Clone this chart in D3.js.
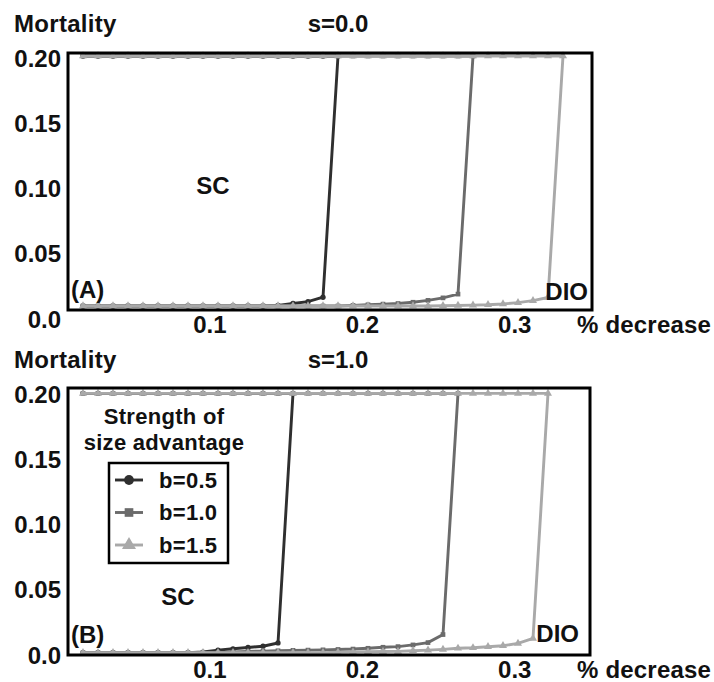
<!DOCTYPE html>
<html>
<head>
<meta charset="utf-8">
<script src="https://cdn.jsdelivr.net/npm/d3@7.9.0/dist/d3.min.js"></script>
<style>
    body { margin: 0; background: #fff; }
    svg text { font-family: "Liberation Sans", Arial, sans-serif; font-weight: bold; fill: #111; }
</style>
</head>
<body>
<svg id="chart" width="714" height="682"></svg>
<script>
// x positions shared by every series (% decrease)
const xGrid = [0.01, 0.02, 0.03, 0.04, 0.05, 0.06, 0.07, 0.08, 0.09, 0.10,
               0.11, 0.12, 0.13, 0.14, 0.15, 0.16, 0.17, 0.18, 0.19, 0.20,
               0.21, 0.22, 0.23, 0.24, 0.25, 0.26, 0.27, 0.28, 0.29, 0.30,
               0.31, 0.32, 0.33];

const seriesLabels = ['b=0.5', 'b=1.0', 'b=1.5'];
const xTicks = [0.1, 0.2, 0.3];
const yTicks = [0, 0.05, 0.10, 0.15, 0.20];
const yTickLabels = ['0.0', '0.05', '0.10', '0.15', '0.20'];

// panel (A), s=0.0 : upper branch (clipped at 0.2) and lower branch
const upperA05 = [0.2, 0.2, 0.2, 0.2, 0.2, 0.2, 0.2, 0.2, 0.2, 0.2, 0.2, 0.2, 0.2, 0.2, 0.2, 0.2, 0.2, 0.2];
const lowerA05 = [0, 0, 0, 0, 0, 0, 0, 0, 0, 0, 0, 0, 0, 0.0005, 0.002, 0.0035, 0.007];
const upperA10 = [0.2, 0.2, 0.2, 0.2, 0.2, 0.2, 0.2, 0.2, 0.2, 0.2, 0.2, 0.2, 0.2, 0.2, 0.2, 0.2, 0.2, 0.2,
                  0.2, 0.2, 0.2, 0.2, 0.2, 0.2, 0.2, 0.2, 0.2];
const lowerA10 = [0, 0, 0, 0, 0, 0, 0, 0, 0, 0, 0, 0, 0, 0, 0, 0, 0, 0,
                  0.0005, 0.001, 0.0015, 0.002, 0.003, 0.0045, 0.0065, 0.0095];
const upperA15 = [0.2, 0.2, 0.2, 0.2, 0.2, 0.2, 0.2, 0.2, 0.2, 0.2, 0.2, 0.2, 0.2, 0.2, 0.2, 0.2, 0.2, 0.2,
                  0.2, 0.2, 0.2, 0.2, 0.2, 0.2, 0.2, 0.2, 0.2, 0.2, 0.2, 0.2, 0.2, 0.2, 0.2];
const lowerA15 = [0, 0, 0, 0, 0, 0, 0, 0, 0, 0, 0, 0, 0, 0, 0, 0, 0, 0, 0, 0, 0, 0, 0, 0,
                  0.0002, 0.0004, 0.0007, 0.001, 0.0016, 0.0027, 0.0043, 0.0068];

// panel (B), s=1.0
const upperB05 = [0.2, 0.2, 0.2, 0.2, 0.2, 0.2, 0.2, 0.2, 0.2, 0.2, 0.2, 0.2, 0.2, 0.2, 0.2];
const lowerB05 = [0, 0, 0, 0, 0, 0, 0, 0, 0.0005, 0.002, 0.003, 0.004, 0.005, 0.0075];
const upperB10 = [0.2, 0.2, 0.2, 0.2, 0.2, 0.2, 0.2, 0.2, 0.2, 0.2, 0.2, 0.2, 0.2, 0.2, 0.2, 0.2, 0.2, 0.2,
                  0.2, 0.2, 0.2, 0.2, 0.2, 0.2, 0.2, 0.2];
const lowerB10 = [0, 0, 0, 0, 0, 0, 0, 0, 0, 0,
                  0.0005, 0.001, 0.0012, 0.0015, 0.0018, 0.002, 0.0022, 0.0025, 0.0028, 0.0034,
                  0.0042, 0.0047, 0.006, 0.0078, 0.014];
const upperB15 = [0.2, 0.2, 0.2, 0.2, 0.2, 0.2, 0.2, 0.2, 0.2, 0.2, 0.2, 0.2, 0.2, 0.2, 0.2, 0.2, 0.2, 0.2,
                  0.2, 0.2, 0.2, 0.2, 0.2, 0.2, 0.2, 0.2, 0.2, 0.2, 0.2, 0.2, 0.2, 0.2];
const lowerB15 = [0, 0, 0, 0, 0, 0, 0, 0, 0, 0, 0, 0, 0, 0, 0, 0, 0,
                  0.0003, 0.0005, 0.0007, 0.0009, 0.001, 0.0015, 0.002, 0.0026, 0.0034, 0.0038,
                  0.0046, 0.0054, 0.0072, 0.011];

const colors = ['#2f2f2f', '#6b6b6b', '#a9a9a9'];
const symbols = [d3.symbolCircle, d3.symbolSquare, d3.symbolTriangle];

const svg = d3.select('#chart');

function drawPanel(p) {
    let x = d3.scaleLinear().domain([0, 0.35]).range([p.left, p.left + 525]);
    let y = d3.scaleLinear().domain([0, 0.2]).range([p.y0, p.y0 - 260 + p.ySqueeze]);
    // labels sit on a slightly different spacing than the data in the original
    let xLab = d3.scaleLinear().domain([0, 0.35]).range([57.5, 591]);
    let yLab = d3.scaleLinear().domain([0, 0.2]).range([p.labY0, p.labY0 - 261]);

    let g = svg.append('g');

    let line = d3.line().x(d => x(d[0])).y(d => y(d[1]));

    p.series.forEach((s, i) => {
        let pts = s.upper.map((v, k) => [xGrid[k], v])
            .concat(s.lower.map((v, k) => [xGrid[k], v]).reverse());
        g.append('path')
            .attr('d', line(pts))
            .attr('fill', 'none')
            .attr('stroke', colors[i])
            .attr('stroke-width', 2.9);
        g.selectAll(null)
            .data(pts)
            .join('path')
            .attr('transform', d => `translate(${x(d[0])},${y(d[1])})`)
            .attr('d', d3.symbol().type(symbols[i]).size(i === 2 ? 28 : 22))
            .attr('fill', colors[i]);
    });

    // frame
    g.append('rect')
        .attr('x', p.left).attr('y', p.frameTop)
        .attr('width', p.frameRight - p.left).attr('height', p.frameBottom - p.frameTop)
        .attr('fill', 'none').attr('stroke', '#000').attr('stroke-width', 3);

    // y tick labels
    g.selectAll(null)
        .data(yTicks)
        .join('text')
        .attr('x', 61)
        .attr('y', d => yLab(d))
        .attr('dy', '0.36em')
        .attr('text-anchor', 'end')
        .style('font-size', '24px')
        .text((d, i) => yTickLabels[i]);

    // x tick labels
    g.selectAll(null)
        .data(xTicks)
        .join('text')
        .attr('x', d => xLab(d))
        .attr('y', p.xLabY)
        .attr('text-anchor', 'middle')
        .style('font-size', '24px')
        .text(d => d3.format('.1f')(d));

    g.append('text').attr('x', 577).attr('y', p.xLabY).style('font-size', '24px')
        .style('letter-spacing', '0.2px').text('% decrease');
    g.append('text').attr('x', 14).attr('y', p.titleY).style('font-size', '24px')
        .style('letter-spacing', '0.3px').text('Mortality');
    g.append('text').attr('x', 338).attr('y', p.titleY).attr('text-anchor', 'middle')
        .style('font-size', '24px').text(p.title);
    g.append('text').attr('x', 71).attr('y', p.tagY).style('font-size', '24px').text(p.tag);
    g.append('text').attr('x', p.scX).attr('y', p.scY).attr('text-anchor', 'middle')
        .style('font-size', '24px').text('SC');
    g.append('text').attr('x', p.dioX).attr('y', p.dioY).attr('text-anchor', 'end')
        .style('font-size', '24px').text('DIO');
}

drawPanel({
    left: 68, frameTop: 53, frameRight: 592, frameBottom: 310,
    y0: 306, ySqueeze: 10, labY0: 319,
    xLabY: 333, titleY: 32, title: 's=0.0', tag: '(A)', tagY: 298,
    scX: 213, scY: 194, dioX: 588, dioY: 300,
    series: [
        { upper: upperA05, lower: lowerA05 },
        { upper: upperA10, lower: lowerA10 },
        { upper: upperA15, lower: lowerA15 }
    ]
});

drawPanel({
    left: 68, frameTop: 388, frameRight: 590, frameBottom: 655,
    y0: 652.7, ySqueeze: 0.7, labY0: 655,
    xLabY: 678, titleY: 368, title: 's=1.0', tag: '(B)', tagY: 643,
    scX: 178, scY: 605, dioX: 579, dioY: 642,
    series: [
        { upper: upperB05, lower: lowerB05 },
        { upper: upperB10, lower: lowerB10 },
        { upper: upperB15, lower: lowerB15 }
    ]
});

// legend
let lg = svg.append('g');
lg.append('text').attr('x', 164).attr('y', 424).attr('text-anchor', 'middle')
    .style('font-size', '22px').style('letter-spacing', '0.3px').text('Strength of');
lg.append('text').attr('x', 164).attr('y', 450).attr('text-anchor', 'middle')
    .style('font-size', '22px').style('letter-spacing', '0.3px').text('size advantage');
lg.append('rect').attr('x', 109).attr('y', 463).attr('width', 119).attr('height', 100)
    .attr('fill', '#fff').attr('stroke', '#000').attr('stroke-width', 2.5);

seriesLabels.forEach((label, i) => {
    let cy = 480 + i * 32.5;
    lg.append('line').attr('x1', 115).attr('x2', 143).attr('y1', cy).attr('y2', cy)
        .attr('stroke', colors[i]).attr('stroke-width', 2.9);
    lg.append('path').attr('transform', `translate(129,${cy})`)
        .attr('d', d3.symbol().type(symbols[i]).size(i === 2 ? 85 : 75))
        .attr('fill', colors[i]);
    lg.append('text').attr('x', 159).attr('y', cy).attr('dy', '0.36em')
        .style('font-size', '22px').style('letter-spacing', '0.3px').text(label);
});
</script>
</body>
</html>
